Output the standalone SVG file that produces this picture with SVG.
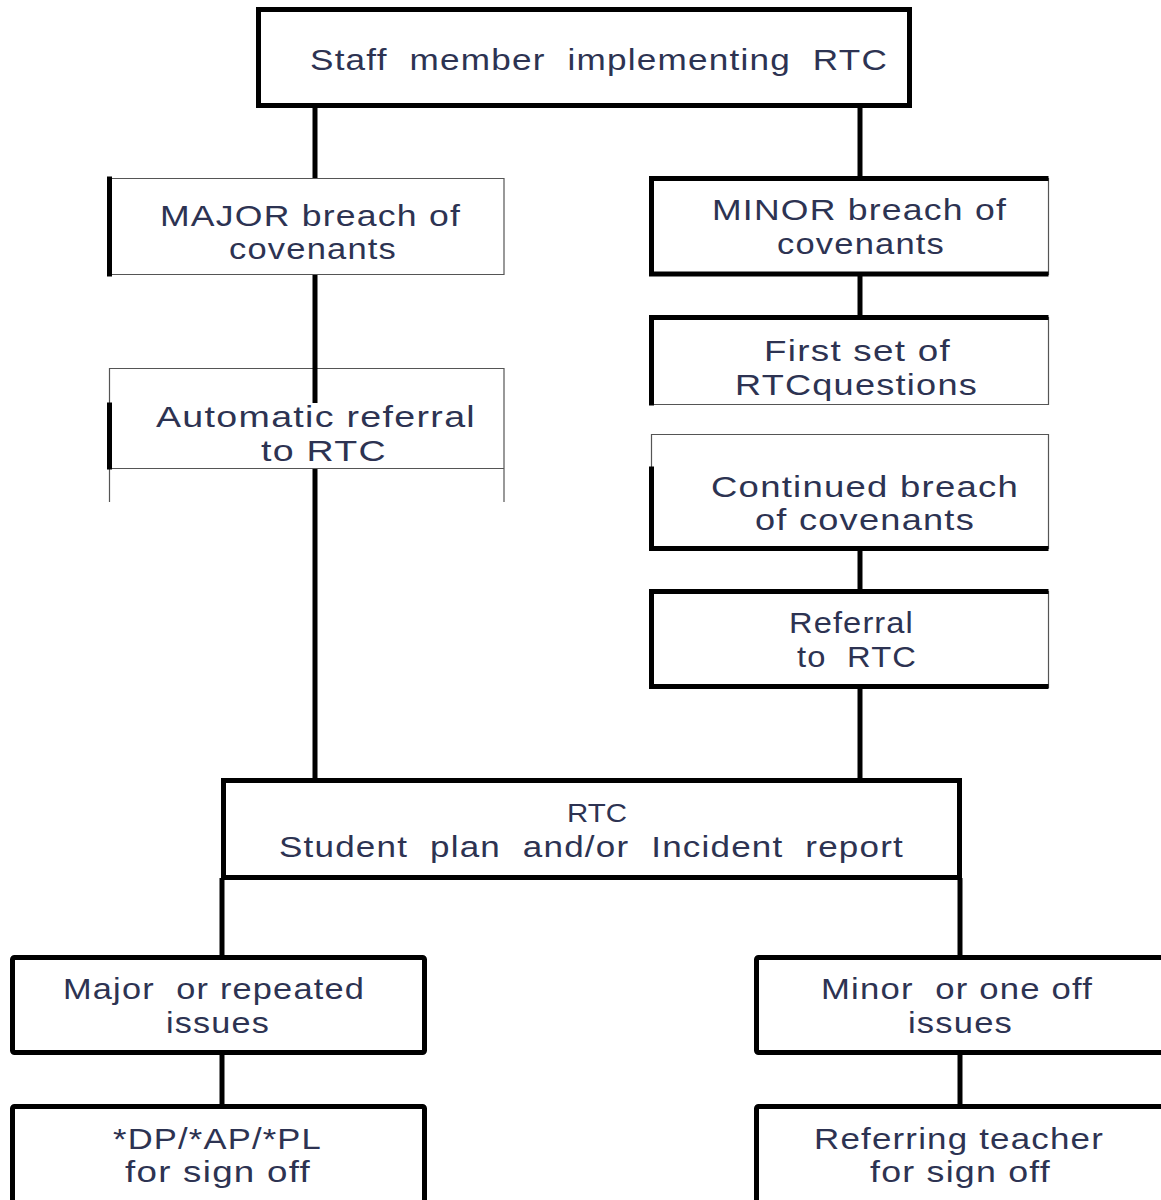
<svg xmlns="http://www.w3.org/2000/svg" width="1161" height="1200" viewBox="0 0 1161 1200">
  <style>
    .bg { fill: #ffffff; }
    .thick { stroke: #000000; stroke-width: 5; fill: none; stroke-linecap: square; }
    .thin { stroke: #555555; stroke-width: 1.2; fill: none; }
    .box { fill: #ffffff; stroke: #000000; stroke-width: 5; }
    .conn { stroke: #000000; stroke-width: 5; fill: none; }
    .label { font-family: "Liberation Sans", Arial, sans-serif; font-size: 29px; fill: #2d3352; letter-spacing: 1px; white-space: pre; }
    .small { font-size: 25px; letter-spacing: 0; }
  </style>
  <rect class="bg" x="0" y="0" width="1161" height="1200"/>

  <!-- connectors -->
  <g id="connectors">
    <line class="conn" x1="315" y1="106" x2="315" y2="178" stroke-width="6"/>
    <line class="conn" x1="860" y1="106" x2="860" y2="178" stroke-width="6"/>
    <line class="conn" x1="315" y1="274" x2="315" y2="403" stroke-width="6"/>
    <line class="conn" x1="315" y1="468" x2="315" y2="780"/>
    <line class="conn" x1="860" y1="274" x2="860" y2="317" stroke-width="6"/>
    <line class="conn" x1="860" y1="549" x2="860" y2="591" stroke-width="6"/>
    <line class="conn" x1="860" y1="687" x2="860" y2="780" stroke-width="6"/>
    <line class="conn" x1="222" y1="878" x2="222" y2="957"/>
    <line class="conn" x1="960" y1="878" x2="960" y2="957"/>
    <line class="conn" x1="222" y1="1053" x2="222" y2="1106"/>
    <line class="conn" x1="960" y1="1053" x2="960" y2="1106"/>
  </g>

  <!-- Staff member -->
  <g id="node-staff">
    <rect class="box" x="258.5" y="9.5" width="651" height="96"/>
    <text class="label" x="310" y="70" textLength="578" lengthAdjust="spacingAndGlyphs">Staff  member  implementing  RTC</text>
  </g>

  <!-- MAJOR breach -->
  <g id="node-major-breach">
    <rect x="109" y="178.5" width="395" height="96" fill="#ffffff"/>
    <path class="thin" d="M109 178.5 H504 V274.5 H109"/>
    <line class="thick" x1="109.5" y1="179" x2="109.5" y2="274"/>
    <text class="label" x="160" y="226" textLength="301" lengthAdjust="spacingAndGlyphs">MAJOR breach of</text>
    <text class="label" x="229" y="259" textLength="168" lengthAdjust="spacingAndGlyphs">covenants</text>
  </g>

  <!-- Automatic referral -->
  <g id="node-auto-referral">
    <rect x="109" y="368.5" width="395" height="100" fill="#ffffff"/>
    <path class="thin" d="M109.5 502 V368.5 H504 V502 M109 468.5 H504"/>
    <line class="thick" x1="109.5" y1="405" x2="109.5" y2="467"/>
    <line class="conn" x1="315" y1="368" x2="315" y2="403"/>
    <text class="label" x="156" y="427" textLength="320" lengthAdjust="spacingAndGlyphs">Automatic referral</text>
    <text class="label" x="261" y="461" textLength="126" lengthAdjust="spacingAndGlyphs">to RTC</text>
  </g>

  <!-- MINOR breach -->
  <g id="node-minor-breach">
    <rect x="651" y="178.5" width="397" height="96" fill="#ffffff"/>
    <line class="thin" x1="1048.5" y1="178" x2="1048.5" y2="275"/>
    <path class="thick" d="M1046 178.5 H651.5 V274 H1046"/>
    <text class="label" x="712" y="220" textLength="295" lengthAdjust="spacingAndGlyphs">MINOR breach of</text>
    <text class="label" x="777" y="254" textLength="168" lengthAdjust="spacingAndGlyphs">covenants</text>
  </g>

  <!-- First set of RTC questions -->
  <g id="node-first-set">
    <rect x="651" y="317" width="397" height="87" fill="#ffffff"/>
    <path class="thin" d="M651 404.5 H1048.5 V317"/>
    <path class="thick" d="M1046 317.5 H651.5 V403"/>
    <text class="label" x="764" y="361" textLength="187" lengthAdjust="spacingAndGlyphs">First set of</text>
    <text class="label" x="735" y="395" textLength="243" lengthAdjust="spacingAndGlyphs">RTCquestions</text>
  </g>

  <!-- Continued breach -->
  <g id="node-continued">
    <rect x="651" y="434" width="397" height="115" fill="#ffffff"/>
    <path class="thin" d="M651.5 469 V434.5 H1048.5 V549"/>
    <path class="thick" d="M651.5 469 V548.5 H1046"/>
    <text class="label" x="711" y="497" textLength="308" lengthAdjust="spacingAndGlyphs">Continued breach</text>
    <text class="label" x="755" y="530" textLength="220" lengthAdjust="spacingAndGlyphs">of covenants</text>
  </g>

  <!-- Referral to RTC -->
  <g id="node-referral">
    <rect x="651" y="591" width="397" height="96" fill="#ffffff"/>
    <line class="thin" x1="1048.5" y1="591" x2="1048.5" y2="688"/>
    <path class="thick" d="M1046 591.5 H651.5 V686.5 H1046"/>
    <text class="label" x="789" y="633" textLength="125" lengthAdjust="spacingAndGlyphs">Referral</text>
    <text class="label" x="797" y="667" textLength="120" lengthAdjust="spacingAndGlyphs">to  RTC</text>
  </g>

  <!-- RTC student plan -->
  <g id="node-rtc">
    <rect class="box" x="223.5" y="780.5" width="736" height="97"/>
    <text class="label small" x="567" y="822" textLength="60" lengthAdjust="spacingAndGlyphs">RTC</text>
    <text class="label" x="279" y="857" textLength="625" lengthAdjust="spacingAndGlyphs">Student  plan  and/or  Incident  report</text>
  </g>

  <!-- Major or repeated issues -->
  <g id="node-major-issues">
    <rect class="box" x="12.5" y="957.5" width="412" height="95" rx="2"/>
    <text class="label" x="63" y="999" textLength="302" lengthAdjust="spacingAndGlyphs">Major  or repeated</text>
    <text class="label" x="166" y="1033" textLength="104" lengthAdjust="spacingAndGlyphs">issues</text>
  </g>

  <!-- DP/AP/PL sign off -->
  <g id="node-dp-signoff">
    <rect class="box" x="12.5" y="1106.5" width="412" height="110" rx="2"/>
    <text class="label" x="113" y="1149" textLength="209" lengthAdjust="spacingAndGlyphs">*DP/*AP/*PL</text>
    <text class="label" x="125" y="1182" textLength="186" lengthAdjust="spacingAndGlyphs">for sign off</text>
  </g>

  <!-- Minor or one off issues -->
  <g id="node-minor-issues">
    <rect class="box" x="756.5" y="957.5" width="420" height="95" rx="2"/>
    <text class="label" x="821" y="999" textLength="272" lengthAdjust="spacingAndGlyphs">Minor  or one off</text>
    <text class="label" x="908" y="1033" textLength="105" lengthAdjust="spacingAndGlyphs">issues</text>
  </g>

  <!-- Referring teacher sign off -->
  <g id="node-teacher-signoff">
    <rect class="box" x="756.5" y="1106.5" width="420" height="110" rx="2"/>
    <text class="label" x="814" y="1149" textLength="290" lengthAdjust="spacingAndGlyphs">Referring teacher</text>
    <text class="label" x="870" y="1182" textLength="181" lengthAdjust="spacingAndGlyphs">for sign off</text>
  </g>
</svg>
